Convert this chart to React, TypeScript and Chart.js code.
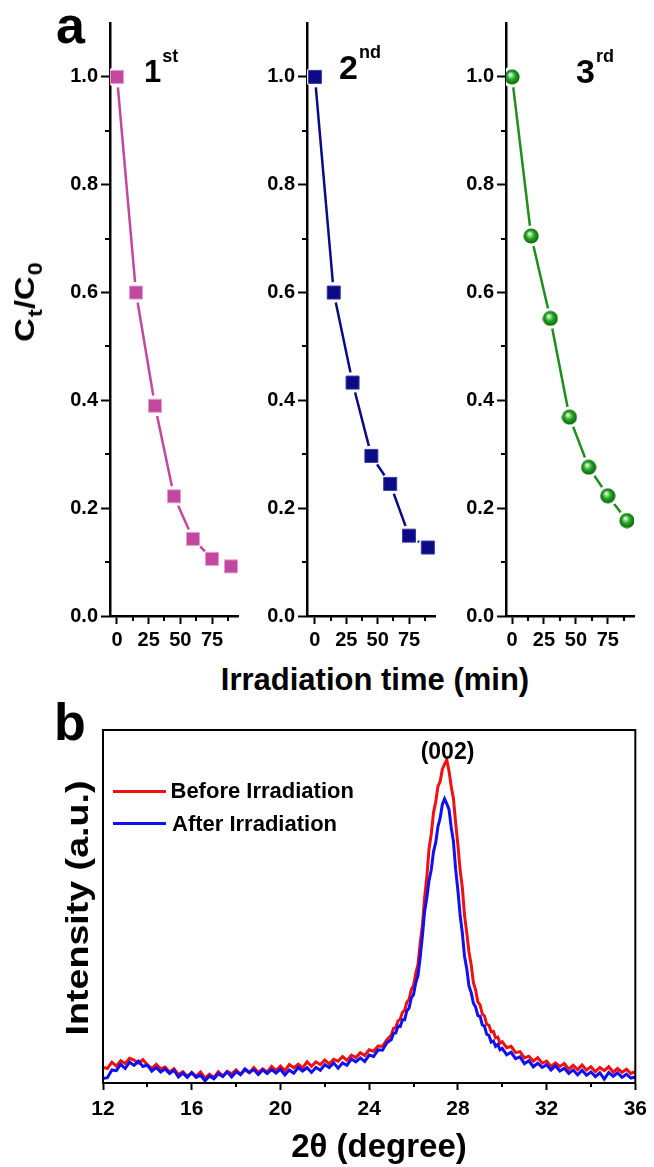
import React, { useEffect, useRef } from "react";
import { Chart, registerables } from "chart.js";

Chart.register(...registerables);

const FONT = '"Liberation Sans", Arial, Helvetica, sans-serif';
Chart.defaults.font.family = FONT;

// ---------- Panel a: photocatalytic cycles ----------
const TIME_MIN = [0, 15, 30, 45, 60, 75, 90];
const RUN_1ST = [1.0, 0.6, 0.39, 0.222, 0.143, 0.106, 0.092];
const RUN_2ND = [1.0, 0.6, 0.433, 0.297, 0.245, 0.149, 0.127];
const RUN_3RD = [1.0, 0.705, 0.552, 0.369, 0.276, 0.223, 0.177];
const A_Y_TICKS = [0, 0.2, 0.4, 0.6, 0.8, 1.0];
const A_Y_MINOR = [0.1, 0.3, 0.5, 0.7, 0.9];
const A_X_TICKS = [0, 25, 50, 75];
const A_X_MINOR = [12.5, 37.5, 62.5, 87.5];

// ---------- Panel b: XRD ----------
const B_X_TICKS = [12, 16, 20, 24, 28, 32, 36];
const B_X_MINOR = [14, 18, 22, 26, 30, 34];
const TWO_THETA = [
  12, 12.2, 12.4, 12.6, 12.8, 13, 13.2, 13.4, 13.6, 13.8,
  14, 14.2, 14.4, 14.6, 14.8, 15, 15.2, 15.4, 15.6, 15.8,
  16, 16.2, 16.4, 16.6, 16.8, 17, 17.2, 17.4, 17.6, 17.8,
  18, 18.2, 18.4, 18.6, 18.8, 19, 19.2, 19.4, 19.6, 19.8,
  20, 20.2, 20.4, 20.6, 20.8, 21, 21.2, 21.4, 21.6, 21.8,
  22, 22.2, 22.4, 22.6, 22.8, 23, 23.2, 23.4, 23.6, 23.8,
  24, 24.2, 24.4, 24.6, 24.8,
  25, 25.1, 25.2, 25.3, 25.4, 25.5, 25.6, 25.7, 25.8, 25.9,
  26, 26.1, 26.2, 26.3, 26.4, 26.5, 26.6, 26.7, 26.8, 26.9,
  27, 27.1, 27.2, 27.3, 27.4, 27.5, 27.6, 27.7, 27.8, 27.9,
  28, 28.1, 28.2, 28.3, 28.4, 28.5, 28.6, 28.7, 28.8, 28.9,
  29, 29.1, 29.2, 29.3, 29.4, 29.5, 29.6, 29.7, 29.8, 29.9,
  30,
  30.2, 30.4, 30.6, 30.8, 31, 31.2, 31.4, 31.6, 31.8, 32,
  32.2, 32.4, 32.6, 32.8, 33, 33.2, 33.4, 33.6, 33.8, 34,
  34.2, 34.4, 34.6, 34.8, 35, 35.2, 35.4, 35.6, 35.8, 36,
];
const XRD_BEFORE = [
  4.4, 4.1, 5.9, 4.8, 6.3, 5.5, 7.0, 6.5, 5.6, 6.6,
  5.1, 4.1, 5.3, 4.0, 4.5, 3.1, 4.1, 2.4, 3.2, 1.9,
  3.0, 1.9, 3.1, 1.4, 2.5, 1.6, 3.2, 2.0, 3.3, 2.6,
  3.7, 2.4, 3.7, 2.9, 4.4, 3.0, 4.0, 3.1, 4.7, 3.6,
  4.8, 3.5, 5.2, 4.3, 5.3, 4.3, 6.0, 4.7, 6.0, 5.2,
  6.5, 5.4, 6.7, 6.2, 7.5, 6.4, 7.9, 7.2, 8.6, 7.8,
  9.4, 9.0, 10.5, 10.4, 12.3,
  13.6, 15.5, 15.7, 17.6, 18.1, 20.0, 20.6, 22.9, 23.7, 26.5,
  27.6, 31.1, 33.5, 39.6, 44.6, 52.5, 58.4, 66.4, 70.5, 76.6,
  79.6, 84.0, 85.4, 88.9, 90.3, 91.5, 88.4, 84.0, 80.6, 73.6,
  67.5, 60.4, 55.4, 47.5, 42.6, 37.1, 33.5, 28.4, 26.4, 23.0,
  22.1, 19.6, 19.0, 16.6, 16.4, 14.5, 14.6, 12.8, 13.0, 11.3,
  11.7,
  10.0, 10.4, 8.6, 8.9, 7.1, 7.6, 6.2, 7.2, 5.6, 6.2,
  4.7, 5.7, 4.7, 5.5, 3.9, 5.0, 3.8, 5.1, 3.7, 4.6,
  3.2, 4.4, 3.5, 4.6, 3.1, 4.1, 3.0, 3.9, 2.7, 3.2,
];
const XRD_AFTER = [
  1.3, 1.5, 3.7, 3.5, 5.3, 4.1, 5.9, 5.0, 6.2, 4.7,
  5.1, 3.4, 4.4, 3.1, 4.0, 2.7, 3.6, 1.7, 2.8, 1.6,
  2.9, 1.6, 2.2, 0.6, 2.0, 1.2, 2.6, 1.8, 3.1, 1.7,
  3.2, 2.4, 4.0, 3.0, 3.8, 2.4, 3.7, 2.7, 3.8, 2.8,
  3.9, 2.3, 3.7, 2.8, 4.4, 3.4, 4.3, 3.0, 4.4, 3.6,
  5.2, 4.4, 5.7, 4.2, 5.7, 5.0, 6.8, 6.0, 7.1, 6.1,
  7.9, 7.5, 9.4, 9.3, 11.4,
  12.3, 14.1, 14.2, 16.1, 16.0, 17.9, 17.9, 20.5, 21.2, 24.1,
  25.0, 28.4, 30.4, 35.5, 41.6, 48.6, 52.5, 57.4, 60.4, 65.5,
  68.1, 72.6, 75.0, 78.9, 80.5, 79.1, 77.5, 72.4, 68.4, 60.5,
  54.6, 47.6, 42.5, 35.9, 32.4, 27.5, 25.6, 22.6, 21.5, 19.1,
  18.9, 16.5, 16.1, 13.8, 13.5, 11.6, 11.9, 10.4, 10.9, 9.4,
  9.8,
  8.0, 8.7, 6.9, 7.4, 5.5, 6.3, 4.6, 5.6, 4.4, 5.2,
  3.7, 4.9, 3.4, 4.2, 2.7, 3.7, 2.3, 3.6, 2.2, 3.1,
  1.8, 2.9, 1.1, 3.0, 1.9, 2.9, 1.6, 2.5, 1.4, 1.7,
];

const PINK = "#c2489f";
const PINK_EDGE = "#e49ad2";
const NAVY = "#0b0b86";
const NAVY_EDGE = "#3a3aa8";
const GREEN = "#1e8f1e";

const minorTicksPlugin = {
  id: "minorTicks",
  afterDraw(chart: any, _args: any, opts: any) {
    const ctx = chart.ctx;
    const { left, bottom } = chart.chartArea;
    ctx.save();
    ctx.strokeStyle = "#000";
    ctx.lineWidth = opts.width || 2;
    (opts.x || []).forEach((v: number) => {
      const px = Math.round(chart.scales.x.getPixelForValue(v));
      ctx.beginPath();
      ctx.moveTo(px, bottom);
      ctx.lineTo(px, bottom + opts.len);
      ctx.stroke();
    });
    (opts.y || []).forEach((v: number) => {
      const py = Math.round(chart.scales.y.getPixelForValue(v));
      ctx.beginPath();
      ctx.moveTo(left, py);
      ctx.lineTo(left - opts.len, py);
      ctx.stroke();
    });
    ctx.restore();
  },
};

const boxPlugin = {
  id: "frameBox",
  afterDraw(chart: any) {
    const { left, top, right, bottom } = chart.chartArea;
    const ctx = chart.ctx;
    ctx.save();
    ctx.strokeStyle = "#000";
    ctx.lineWidth = 2;
    ctx.strokeRect(left, top, right - left, bottom - top);
    ctx.restore();
  },
};

function makeSphere(): HTMLCanvasElement {
  const c = document.createElement("canvas");
  c.width = 16;
  c.height = 16;
  const g = c.getContext("2d")!;
  const grad = g.createRadialGradient(6.2, 5.6, 0.3, 8, 8, 8);
  grad.addColorStop(0, "#ffffff");
  grad.addColorStop(0.18, "#9be39b");
  grad.addColorStop(0.5, "#23a323");
  grad.addColorStop(1, "#0b5e0b");
  g.fillStyle = grad;
  g.beginPath();
  g.arc(8, 8, 7.6, 0, Math.PI * 2);
  g.fill();
  return c;
}

function kineticsConfig(
  values: number[],
  color: string,
  edge: string,
  marker: any,
  xmin: number,
  xmax: number
): any {
  const pts = TIME_MIN.map((t, i) => ({ x: t, y: values[i] }));
  const isImg = typeof marker !== "string";
  return {
    type: "line",
    data: {
      datasets: [
        {
          data: pts,
          showLine: false,
          order: 0,
          pointStyle: marker,
          pointRadius: isImg ? 8 : 9.2,
          pointBackgroundColor: color,
          pointBorderColor: edge,
          pointBorderWidth: 1,
        },
        {
          data: pts,
          showLine: false,
          order: 1,
          pointStyle: "circle",
          pointRadius: 10.5,
          pointBackgroundColor: "#ffffff",
          pointBorderWidth: 0,
        },
        {
          data: pts,
          order: 2,
          borderColor: color,
          borderWidth: 2.5,
          pointRadius: 0,
          tension: 0,
          fill: false,
        },
      ],
    },
    options: {
      responsive: false,
      animation: false,
      events: [],
      layout: { padding: { top: 23, right: 12, left: 0, bottom: 0 } },
      plugins: {
        legend: { display: false },
        tooltip: { enabled: false },
        minorTicks: { x: A_X_MINOR, y: A_Y_MINOR, len: 5, width: 2 },
      },
      scales: {
        x: {
          type: "linear",
          min: xmin,
          max: xmax,
          z: 1,
          afterBuildTicks: (s: any) => {
            s.ticks = A_X_TICKS.map((v) => ({ value: v }));
          },
          afterFit: (s: any) => {
            s.height = 44;
          },
          grid: {
            display: true,
            drawOnChartArea: false,
            drawTicks: true,
            tickLength: 8,
            tickWidth: 2,
            tickColor: "#000",
          },
          border: { display: true, color: "#000", width: 2.5 },
          ticks: {
            color: "#000",
            font: { family: FONT, size: 20, weight: "bold" },
            padding: 4,
            maxRotation: 0,
            minRotation: 0,
            autoSkip: false,
            callback: (v: any) => String(v),
          },
        },
        y: {
          type: "linear",
          min: 0,
          max: 1.1,
          z: 1,
          afterBuildTicks: (s: any) => {
            s.ticks = A_Y_TICKS.map((v) => ({ value: v }));
          },
          afterFit: (s: any) => {
            s.width = 100;
          },
          grid: {
            display: true,
            drawOnChartArea: false,
            drawTicks: true,
            tickLength: 9,
            tickWidth: 2,
            tickColor: "#000",
          },
          border: { display: true, color: "#000", width: 2.5 },
          ticks: {
            color: "#000",
            font: { family: FONT, size: 20, weight: "bold" },
            padding: 3,
            autoSkip: false,
            callback: (v: any) => Number(v).toFixed(1),
          },
        },
      },
    },
    plugins: [minorTicksPlugin],
  };
}

function xrdConfig(): any {
  return {
    type: "line",
    data: {
      datasets: [
        {
          label: "After Irradiation",
          data: TWO_THETA.map((x, i) => ({ x, y: XRD_AFTER[i] })),
          order: 0,
          borderColor: "#1010f0",
          borderWidth: 3,
          pointRadius: 0,
          tension: 0,
          fill: false,
        },
        {
          label: "Before Irradiation",
          data: TWO_THETA.map((x, i) => ({ x, y: XRD_BEFORE[i] })),
          order: 1,
          borderColor: "#f01010",
          borderWidth: 3,
          pointRadius: 0,
          tension: 0,
          fill: false,
        },
      ],
    },
    options: {
      responsive: false,
      animation: false,
      events: [],
      layout: { padding: { top: 30, right: 12, left: 103, bottom: 0 } },
      plugins: {
        legend: { display: false },
        tooltip: { enabled: false },
        minorTicks: { x: B_X_MINOR, len: 4, width: 2 },
      },
      scales: {
        x: {
          type: "linear",
          min: 12,
          max: 36,
          z: 1,
          afterBuildTicks: (s: any) => {
            s.ticks = B_X_TICKS.map((v) => ({ value: v }));
          },
          afterFit: (s: any) => {
            s.height = 84;
          },
          grid: {
            display: true,
            drawOnChartArea: false,
            drawTicks: true,
            tickLength: 7,
            tickWidth: 2,
            tickColor: "#000",
          },
          border: { display: true, color: "#000", width: 2 },
          ticks: {
            color: "#000",
            font: { family: FONT, size: 21, weight: "bold" },
            padding: 7,
            maxRotation: 0,
            minRotation: 0,
            autoSkip: false,
            callback: (v: any) => String(v),
          },
        },
        y: {
          type: "linear",
          min: 0,
          max: 100,
          display: false,
        },
      },
    },
    plugins: [minorTicksPlugin, boxPlugin],
  };
}

function ChartCanvas(props: {
  left: number;
  top: number;
  width: number;
  height: number;
  make: () => any;
}) {
  const ref = useRef<HTMLCanvasElement | null>(null);
  useEffect(() => {
    if (!ref.current) return;
    const chart = new Chart(ref.current, props.make());
    return () => chart.destroy();
  }, []);
  return (
    <canvas
      ref={ref}
      width={props.width}
      height={props.height}
      style={{
        position: "absolute",
        left: props.left,
        top: props.top,
        width: props.width,
        height: props.height,
        display: "block",
      }}
    />
  );
}

const txt = (extra: React.CSSProperties): React.CSSProperties => ({
  position: "absolute",
  fontFamily: FONT,
  fontWeight: "bold",
  color: "#000",
  lineHeight: 1,
  whiteSpace: "nowrap",
  ...extra,
});

const supStyle = (size: number, shift: number): React.CSSProperties => ({
  fontSize: size,
  verticalAlign: "baseline",
  position: "relative",
  top: shift,
  marginLeft: 1,
});

export default function App() {
  const sphere = makeSphere();
  return (
    <div
      style={{
        position: "absolute",
        left: 0,
        top: 0,
        width: 654,
        height: 1167,
        background: "#fff",
        overflow: "hidden",
      }}
    >
      <ChartCanvas
        left={10}
        top={0}
        width={240}
        height={660}
        make={() => kineticsConfig(RUN_1ST, PINK, PINK_EDGE, "rect", -5.5, 95.5)}
      />
      <ChartCanvas
        left={207}
        top={0}
        width={240}
        height={660}
        make={() => kineticsConfig(RUN_2ND, NAVY, NAVY_EDGE, "rect", -6.3, 95.7)}
      />
      <ChartCanvas
        left={406}
        top={0}
        width={240}
        height={660}
        make={() => kineticsConfig(RUN_3RD, GREEN, GREEN, sphere, -4.7, 95.5)}
      />
      <ChartCanvas left={0} top={700} width={654} height={467} make={xrdConfig} />

      {/* panel a labels */}
      <div style={txt({ left: 56, top: -1, fontSize: 52 })}>a</div>
      <div style={txt({ left: 144, top: 56, fontSize: 31 })}>
        1<sup style={supStyle(18, -20)}>st</sup>
      </div>
      <div style={txt({ left: 339, top: 50, fontSize: 34 })}>
        2<sup style={supStyle(18, -21)}>nd</sup>
      </div>
      <div style={txt({ left: 576, top: 54, fontSize: 34 })}>
        3<sup style={supStyle(18, -21)}>rd</sup>
      </div>
      <div
        style={txt({
          left: 25.4,
          top: 301.5,
          fontSize: 28,
          transform: "translate(-50%, -50%) rotate(-90deg) scaleX(1.17)",
        })}
      >
        C<sub style={supStyle(20, 8)}>t</sub>/C<sub style={supStyle(20, 8)}>0</sub>
      </div>
      <div
        style={txt({
          left: 375,
          top: 664,
          fontSize: 31,
          transform: "translateX(-50%)",
        })}
      >
        Irradiation time (min)
      </div>

      {/* panel b labels */}
      <div style={txt({ left: 54, top: 696, fontSize: 52 })}>b</div>
      <div
        style={txt({
          left: 76.8,
          top: 907.5,
          fontSize: 32,
          transform: "translate(-50%, -50%) rotate(-90deg) scaleX(1.175)",
        })}
      >
        Intensity (a.u.)
      </div>
      <div
        style={txt({
          left: 379,
          top: 1129,
          fontSize: 33,
          transform: "translateX(-50%)",
        })}
      >
        2θ (degree)
      </div>
      <div
        style={txt({
          left: 447.5,
          top: 739.5,
          fontSize: 23,
          transform: "translateX(-50%)",
        })}
      >
        (002)
      </div>
      <div
        style={{
          position: "absolute",
          left: 113,
          top: 789.5,
          width: 53,
          height: 3,
          background: "#f01010",
        }}
      />
      <div
        style={{
          position: "absolute",
          left: 113,
          top: 821.5,
          width: 53,
          height: 3,
          background: "#1010f0",
        }}
      />
      <div style={txt({ left: 170.5, top: 780.4, fontSize: 22 })}>Before Irradiation</div>
      <div style={txt({ left: 172, top: 813.4, fontSize: 22 })}>After Irradiation</div>
    </div>
  );
}
